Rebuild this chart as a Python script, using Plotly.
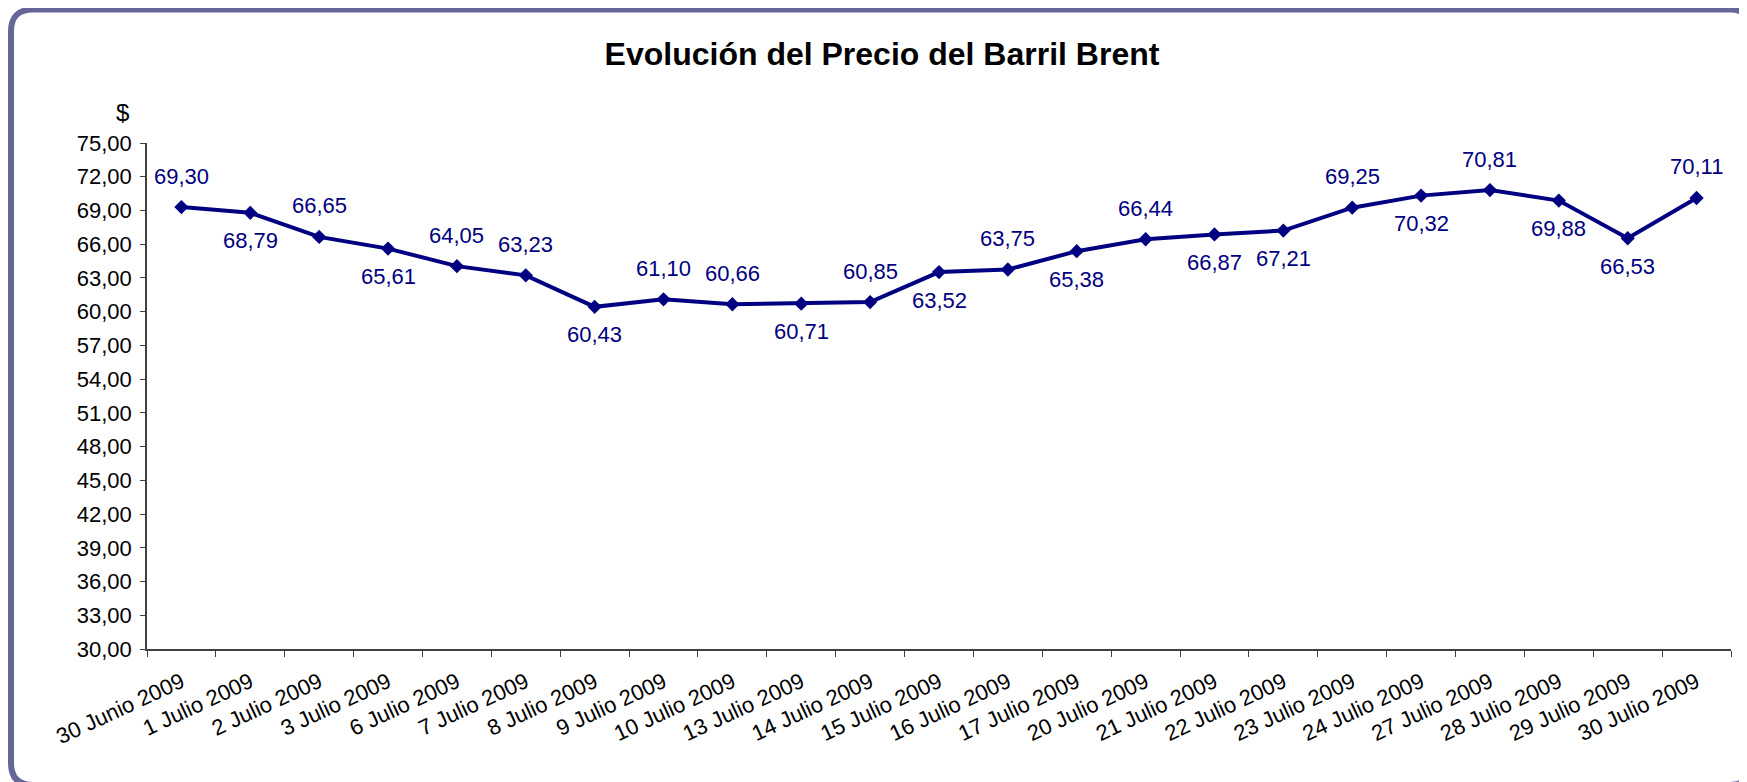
import plotly.graph_objects as go

# data
fechas = ["30 Junio 2009", "1 Julio 2009", "2 Julio 2009", "3 Julio 2009", "6 Julio 2009",
          "7 Julio 2009", "8 Julio 2009", "9 Julio 2009", "10 Julio 2009", "13 Julio 2009",
          "14 Julio 2009", "15 Julio 2009", "16 Julio 2009", "17 Julio 2009", "20 Julio 2009",
          "21 Julio 2009", "22 Julio 2009", "23 Julio 2009", "24 Julio 2009", "27 Julio 2009",
          "28 Julio 2009", "29 Julio 2009", "30 Julio 2009"]
precios = [69.30, 68.79, 66.65, 65.61, 64.05, 63.23, 60.43, 61.10, 60.66, 60.71, 60.85,
           63.52, 63.75, 65.38, 66.44, 66.87, 67.21, 69.25, 70.32, 70.81, 69.88, 66.53, 70.11]
# where each value label sits (a = above, b = below)
etiqueta_pos = ["a", "b", "a", "b", "a", "a", "b", "a", "a", "b", "a", "b",
                "a", "b", "a", "b", "b", "a", "b", "a", "b", "b", "a"]
y_ticks = list(range(30, 76, 3))

# page is 1747x782, but the html body has an 8px margin
W, H = 1747, 782
OFF = 8
L, R, T, B = 147, 16, 143, 133   # plot area edges in page pixels
NAVY = "#000080"
FONT = "Liberation Sans, Arial, sans-serif"


def px2paper(x, y):
    return (x - L) / (W - L - R), (H - B - y) / (H - T - B)


def rounded_rect(x0, y0, x1, y1, r):
    pts = [("M", x0 + r, y0), ("L", x1 - r, y0), ("Q", x1, y0, x1, y0 + r),
           ("L", x1, y1 - r), ("Q", x1, y1, x1 - r, y1), ("L", x0 + r, y1),
           ("Q", x0, y1, x0, y1 - r), ("L", x0, y0 + r), ("Q", x0, y0, x0 + r, y0)]
    out = []
    for p in pts:
        cmd, coords = p[0], p[1:]
        parts = []
        for i in range(0, len(coords), 2):
            px_, py_ = px2paper(coords[i], coords[i + 1])
            parts.append(f"{px_:.5f},{py_:.5f}")
        out.append(cmd + " ".join(parts))
    return " ".join(out) + " Z"


fig = go.Figure()
fig.add_trace(go.Scatter(
    x=fechas, y=precios, mode="lines+markers",
    line=dict(color=NAVY, width=4),
    marker=dict(symbol="diamond", size=11, color=NAVY),
    hoverinfo="x+y", showlegend=False,
))

for f, v, pos in zip(fechas, precios, etiqueta_pos):
    fig.add_annotation(
        x=f, y=v, text=f"{v:.2f}".replace(".", ","), showarrow=False,
        yshift=31 if pos == "a" else -28,
        font=dict(family=FONT, size=22, color=NAVY),
    )

fig.add_annotation(
    xref="paper", yref="paper", x=px2paper(131, 0)[0], y=px2paper(0, 113)[1],
    xanchor="right", yanchor="middle", text="$", showarrow=False,
    font=dict(family=FONT, size=24, color="black"),
)

fig.add_shape(type="path", xref="paper", yref="paper",
              path=rounded_rect(11, 9.5, 1752, 785, 22),
              line=dict(color="#666699", width=6), layer="above")

fig.update_layout(
    width=W - OFF, height=H - OFF,
    margin=dict(l=L - OFF, r=R, t=T - OFF, b=B),
    paper_bgcolor="white", plot_bgcolor="white",
    separators=", ",
    font=dict(family=FONT, size=22, color="black"),
    title=dict(text="<b>Evolución del Precio del Barril Brent</b>",
               x=(882 - OFF) / (W - OFF), y=1 - (53.5 - OFF) / (H - OFF),
               xref="container", yref="container",
               xanchor="center", yanchor="middle",
               font=dict(family=FONT, size=32, color="black")),
)
fig.update_xaxes(
    type="category", range=[-0.5, len(fechas) - 0.5],
    showline=True, linecolor="#404040", linewidth=1.5,
    ticks="outside", tickson="boundaries", ticklen=6, tickcolor="#404040",
    tickangle=-25, ticklabelstandoff=10, showgrid=False, zeroline=False,
    tickfont=dict(family=FONT, size=22, color="black"),
)
fig.update_yaxes(
    range=[30, 75], tickvals=y_ticks, tickformat=".2f",
    showline=True, linecolor="#404040", linewidth=1.5,
    ticks="outside", ticklen=5, tickcolor="#404040", ticklabelstandoff=4,
    showgrid=False, zeroline=False,
    tickfont=dict(family=FONT, size=22, color="black"),
)

fig.write_html("out.html", config={"displayModeBar": False})
